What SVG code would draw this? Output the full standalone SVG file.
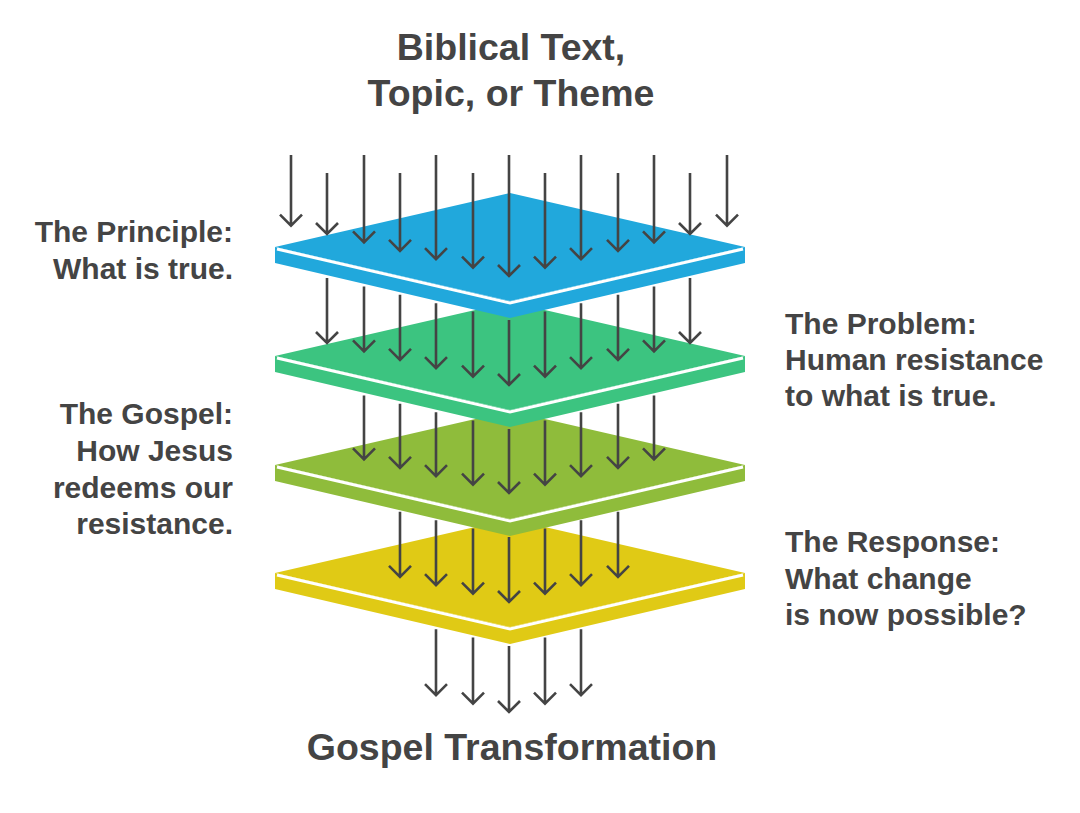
<svg xmlns="http://www.w3.org/2000/svg" width="1080" height="813" viewBox="0 0 1080 813">
<style>
text{font-family:"Liberation Sans",Arial,sans-serif;font-weight:bold;fill:#444}
.t{font-size:37.5px;text-anchor:middle}
.l{font-size:30px}
.r{text-anchor:end}
.edge{fill:none;stroke:#fff;stroke-width:3}
.a{fill:none;stroke:#444;stroke-width:2.6}
</style>
<defs>
<g id="layer">
<polygon points="275,0 275,16 510,71 745,16 745,0 510,54"/>
<polygon points="275,0 510,-54 745,0 510,54"/>
<polyline class="edge" points="277,2 510,56 743,2"/>
</g>
</defs>
<rect width="1080" height="813" fill="#fff"/>
<g id="node-yellow"><use href="#layer" y="573" fill="#E0CA15"/></g>
<g id="node-olive"><use href="#layer" y="465" fill="#8FBC3B"/></g>
<g id="node-green"><use href="#layer" y="356" fill="#3CC480"/></g>
<g id="node-blue"><use href="#layer" y="247" fill="#21A8DC"/></g>
<g id="connectors" class="a">
<path d="M291,155V225.6M280,214.6L291,225.6L302,214.6"/>
<path d="M327,173V234M316,223L327,234L338,223"/>
<path d="M364,155V242.4M353,231.4L364,242.4L375,231.4"/>
<path d="M400,173V250.8M389,239.8L400,250.8L411,239.8"/>
<path d="M436,155V259.2M425,248.2L436,259.2L447,248.2"/>
<path d="M473,173V267.6M462,256.6L473,267.6L484,256.6"/>
<path d="M509,155V276M498,265L509,276L520,265"/>
<path d="M545,173V267.6M534,256.6L545,267.6L556,256.6"/>
<path d="M581,155V259.2M570,248.2L581,259.2L592,248.2"/>
<path d="M618,173V250.8M607,239.8L618,250.8L629,239.8"/>
<path d="M654,155V242.4M643,231.4L654,242.4L665,231.4"/>
<path d="M690,173V234M679,223L690,234L701,223"/>
<path d="M727,155V225.6M716,214.6L727,225.6L738,214.6"/>

<path d="M327,278V343M316,332L327,343L338,332"/>
<path d="M364,286.4V351.4M353,340.4L364,351.4L375,340.4"/>
<path d="M400,294.8V359.8M389,348.8L400,359.8L411,348.8"/>
<path d="M436,303.2V368.2M425,357.2L436,368.2L447,357.2"/>
<path d="M473,311.6V376.6M462,365.6L473,376.6L484,365.6"/>
<path d="M509,320V385M498,374L509,385L520,374"/>
<path d="M545,311.6V376.6M534,365.6L545,376.6L556,365.6"/>
<path d="M581,303.2V368.2M570,357.2L581,368.2L592,357.2"/>
<path d="M618,294.8V359.8M607,348.8L618,359.8L629,348.8"/>
<path d="M654,286.4V351.4M643,340.4L654,351.4L665,340.4"/>
<path d="M690,278V343M679,332L690,343L701,332"/>

<path d="M364,395.4V459.4M353,448.4L364,459.4L375,448.4"/>
<path d="M400,403.8V467.8M389,456.8L400,467.8L411,456.8"/>
<path d="M436,412.2V476.2M425,465.2L436,476.2L447,465.2"/>
<path d="M473,420.6V484.6M462,473.6L473,484.6L484,473.6"/>
<path d="M509,429V493M498,482L509,493L520,482"/>
<path d="M545,420.6V484.6M534,473.6L545,484.6L556,473.6"/>
<path d="M581,412.2V476.2M570,465.2L581,476.2L592,465.2"/>
<path d="M618,403.8V467.8M607,456.8L618,467.8L629,456.8"/>
<path d="M654,395.4V459.4M643,448.4L654,459.4L665,448.4"/>

<path d="M400,511.8V576.8M389,565.8L400,576.8L411,565.8"/>
<path d="M436,520.2V585.2M425,574.2L436,585.2L447,574.2"/>
<path d="M473,528.6V593.6M462,582.6L473,593.6L484,582.6"/>
<path d="M509,537V602M498,591L509,602L520,591"/>
<path d="M545,528.6V593.6M534,582.6L545,593.6L556,582.6"/>
<path d="M581,520.2V585.2M570,574.2L581,585.2L592,574.2"/>
<path d="M618,511.8V576.8M607,565.8L618,576.8L629,565.8"/>

<path d="M436,629.2V695.2M425,684.2L436,695.2L447,684.2"/>
<path d="M473,637.6V703.6M462,692.6L473,703.6L484,692.6"/>
<path d="M509,646V712M498,701L509,712L520,701"/>
<path d="M545,637.6V703.6M534,692.6L545,703.6L556,692.6"/>
<path d="M581,629.2V695.2M570,684.2L581,695.2L592,684.2"/>
</g>
<g id="title"><text class="t" x="511" y="60">Biblical Text,</text><text class="t" x="511" y="106">Topic, or Theme</text></g>
<g id="label-principle"><text class="l r" x="233" y="242">The Principle:</text><text class="l r" x="233" y="279">What is true.</text></g>
<g id="label-problem"><text class="l" x="785" y="334">The Problem:</text><text class="l" x="785" y="370">Human resistance</text><text class="l" x="785" y="406">to what is true.</text></g>
<g id="label-gospel"><text class="l r" x="233" y="424">The Gospel:</text><text class="l r" x="233" y="461">How Jesus</text><text class="l r" x="233" y="498">redeems our</text><text class="l r" x="233" y="534">resistance.</text></g>
<g id="label-response"><text class="l" x="785" y="552">The Response:</text><text class="l" x="785" y="589">What change</text><text class="l" x="785" y="625">is now possible?</text></g>
<g id="footer"><text class="t" x="512" y="760">Gospel Transformation</text></g>
</svg>
